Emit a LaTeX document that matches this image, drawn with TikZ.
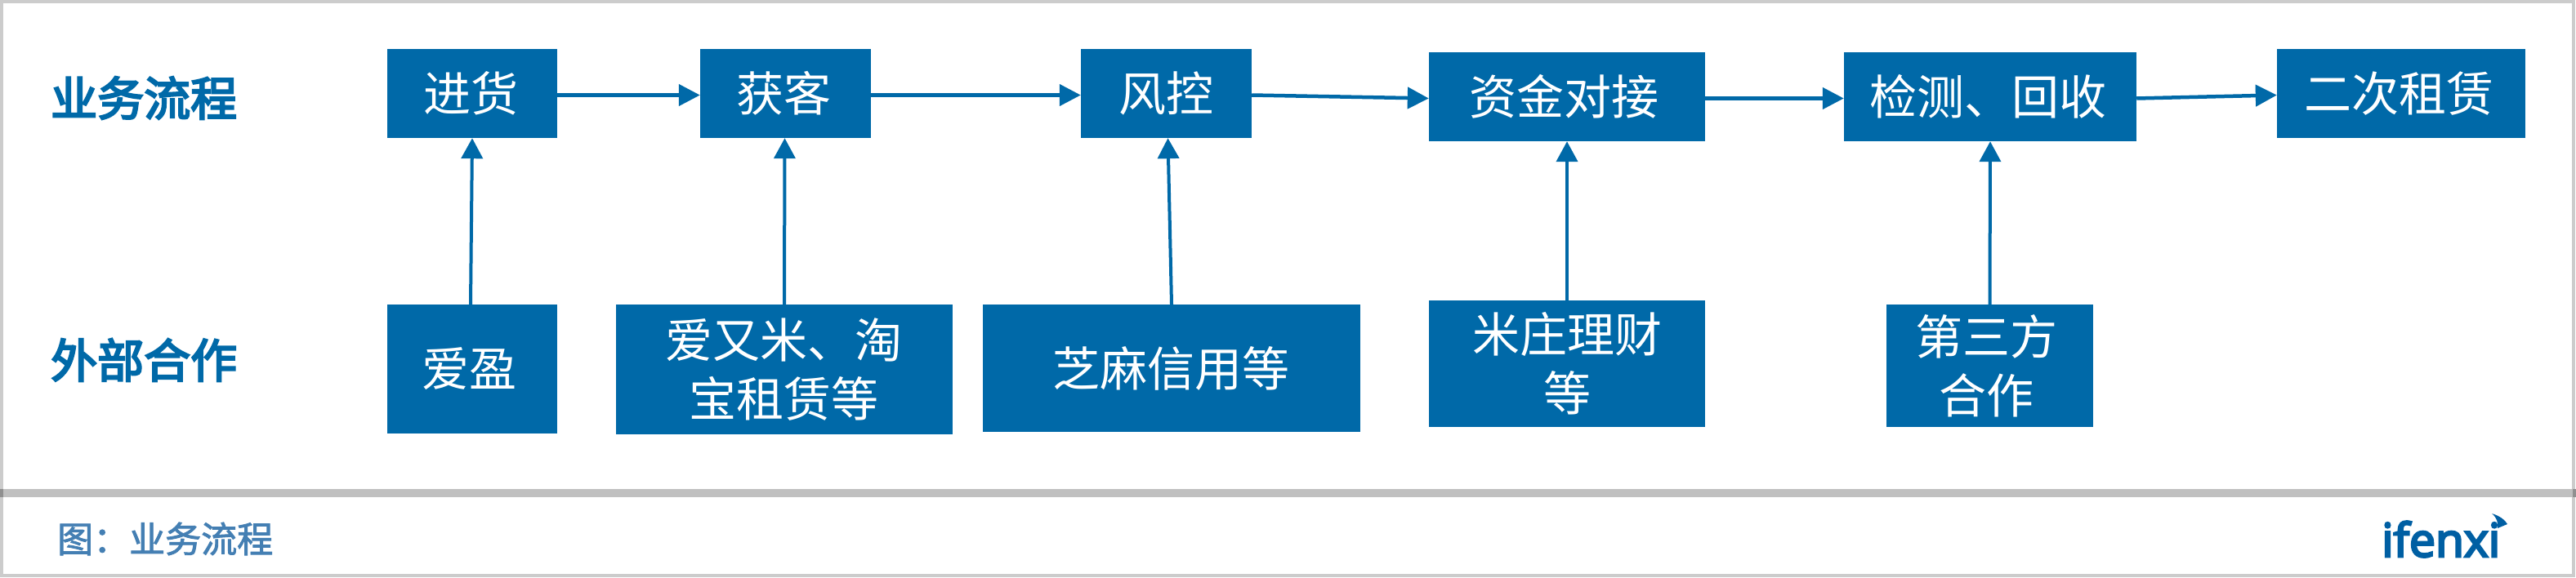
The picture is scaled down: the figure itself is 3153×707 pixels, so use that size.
\documentclass[tikz,border=0pt]{standalone}
\usepackage{fontspec}
\usetikzlibrary{arrows.meta}
\setmainfont{Noto Sans CJK SC}
\newfontfamily\labelfont[FakeBold=4]{Noto Sans CJK SC}
\newfontfamily\capfont[FakeBold=2]{Noto Sans CJK SC}
\newfontfamily\logofont[FakeBold=4.5]{Open Sans}
\newcommand{\nudge}[1]{\hspace*{#1pt}}
\definecolor{mainblue}{HTML}{0069A8}
\definecolor{capblue}{HTML}{447FB3}
\definecolor{logoblue}{HTML}{005FA3}
\definecolor{framegray}{HTML}{CCCCCC}
\definecolor{rulegray}{HTML}{C0C0C0}
\definecolor{ruleend}{HTML}{909090}
\tikzset{
  x=1pt,y=-1pt,
  flowbox/.style={fill=mainblue,text=white,inner sep=0pt,align=center,font=\fontsize{58}{72}\selectfont},
  rowlabel/.style={text=mainblue,inner sep=0pt,anchor=west,font=\labelfont\fontsize{57}{66}\selectfont},
  link/.style={draw=mainblue,line width=4.5pt,-{Triangle[length=26pt,width=26pt]}},
  uplink/.style={draw=mainblue,line width=4pt,-{Triangle[length=25pt,width=26pt]}},
}
\begin{document}
\begin{tikzpicture}
\useasboundingbox (0,0) rectangle (3153,707);
\fill[white] (0,0) rectangle (3153,707);
\draw[framegray,line width=4pt] (2,2) rectangle (3150,705);
\fill[rulegray] (0,599) rectangle (3153,609);
\fill[ruleend] (0,599) rectangle (4,609);
\fill[ruleend] (3149,599) rectangle (3153,609);

\node[rowlabel] (lab1) at (62,120) {业务流程};
\node[rowlabel] (lab2) at (62,441) {外部合作};

\node[flowbox,minimum width=208pt,minimum height=109pt] (t1) at (578,114.5) {进货\nudge{4}};
\node[flowbox,minimum width=209pt,minimum height=109pt] (t2) at (961.5,114.5) {获客\nudge{4}};
\node[flowbox,minimum width=209pt,minimum height=109pt] (t3) at (1427.5,114.5) {风控};
\node[flowbox,minimum width=338pt,minimum height=109pt] (t4) at (1918,118.5) {资金对接\nudge{8}};
\node[flowbox,minimum width=358pt,minimum height=109pt] (t5) at (2436,118.5) {检测、回收\nudge{6}};
\node[flowbox,minimum width=304pt,minimum height=109pt] (t6) at (2939,114.5) {二次租赁\nudge{6}};

\node[flowbox,minimum width=208pt,minimum height=158pt] (b1) at (578,452) {爱盈\nudge{8}};
\node[flowbox,minimum width=412pt,minimum height=159pt] (b2) at (960,452.5) {爱又米、淘\nudge{2}\\宝租赁等\nudge{2}};
\node[flowbox,minimum width=462pt,minimum height=156pt] (b3) at (1434,451) {芝麻信用等\nudge{2}};
\node[flowbox,minimum width=338pt,minimum height=155pt] (b4) at (1918,445.5) {米庄理财\\等};
\node[flowbox,minimum width=253pt,minimum height=150pt] (b5) at (2435.5,448) {第三方\nudge{8}\\合作\nudge{8}};

\draw[link] ([yshift=-2pt]t1.east) -- ([yshift=-2pt]t2.west);
\draw[link] ([yshift=-2pt]t2.east) -- ([yshift=-2pt]t3.west);
\draw[link] ([yshift=-2pt]t3.east) -- ([yshift=-2pt]t4.west);
\draw[link] ([yshift=-2pt]t4.east) -- ([yshift=-2pt]t5.west);
\draw[link] ([yshift=-2pt]t5.east) -- ([yshift=-2pt]t6.west);
\draw[uplink] ([xshift=-2pt]b1.north) -- (t1.south);
\draw[uplink] (b2.north) -- ([xshift=-1pt]t2.south);
\draw[uplink] (b3.north) -- ([xshift=2pt]t3.south);
\draw[uplink] (b4.north) -- (t4.south);
\draw[uplink] (b5.north) -- (t5.south);

\node[text=capblue,inner sep=0pt,anchor=west,font=\capfont\fontsize{44}{50}\selectfont] (cap) at (70,660) {图：业务流程};

\node[text=logoblue,inner sep=0pt,anchor=base west,font=\logofont\fontsize{57}{60}\selectfont] (logo) at (2915,682) {ifenxi};
\fill[logoblue] (3050,629) .. controls (3060,632) and (3066,637) .. (3069,642) -- (3057,647) .. controls (3058,640) and (3056,634) .. (3050,629) -- cycle;
\end{tikzpicture}
\end{document}
